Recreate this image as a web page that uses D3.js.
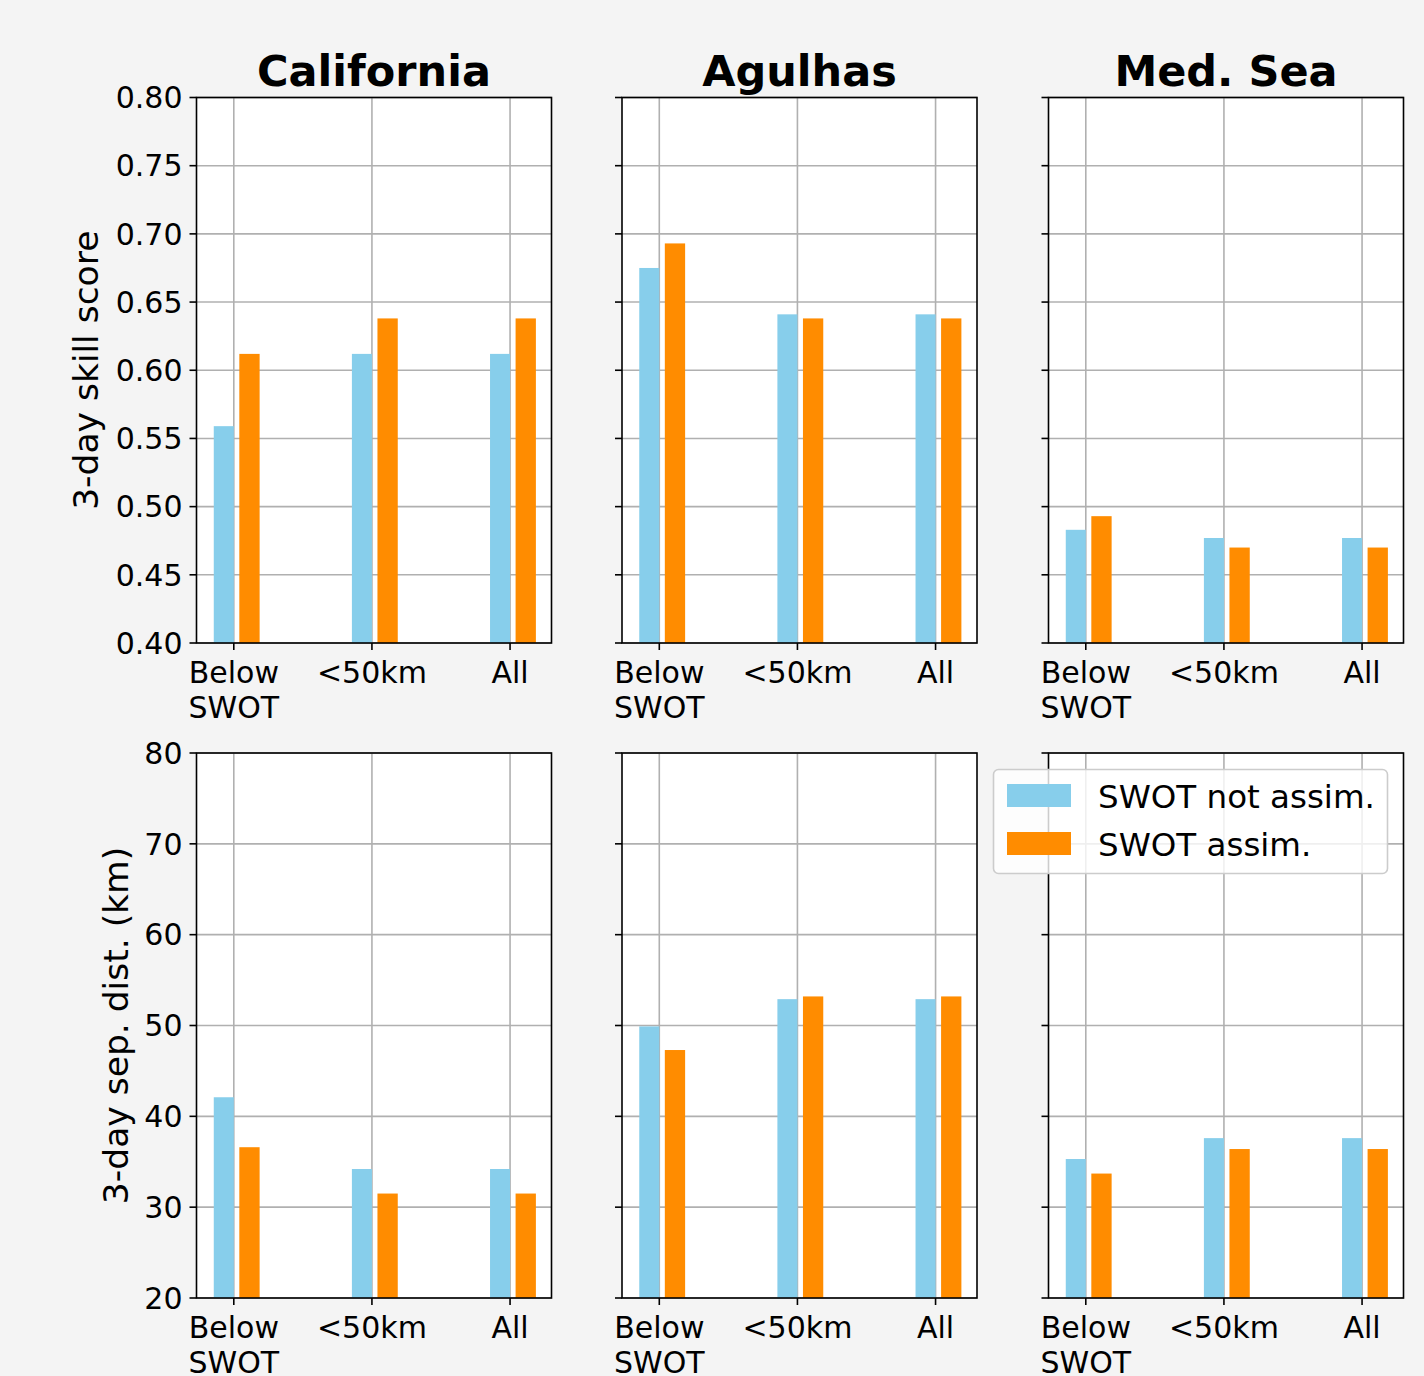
<!DOCTYPE html>
<html>
<head>
<meta charset="utf-8">
<script src="https://cdn.jsdelivr.net/npm/d3@7"></script>
<style>
  html, body { margin: 0; padding: 0; background: #f4f4f4; }
  svg { display: block; }
  text { font-family: "DejaVu Sans", sans-serif; fill: #000; }
</style>
</head>
<body>
<svg id="chart" width="1424" height="1376"></svg>
<script>
// ---- data ----
const regions = ["California", "Agulhas", "Med. Sea"];
const categories = ["Below\nSWOT", "<50km", "All"];
const seriesNames = ["SWOT not assim.", "SWOT assim."];
const seriesColors = ["#87CEEB", "#FF8C00"];

// 3-day skill score [region][category]
const skillNotAssim = [
  [0.559, 0.612, 0.612],
  [0.675, 0.641, 0.641],
  [0.483, 0.477, 0.477]
];
const skillAssim = [
  [0.612, 0.638, 0.638],
  [0.693, 0.638, 0.638],
  [0.493, 0.470, 0.470]
];
// 3-day separation distance (km)
const distNotAssim = [
  [42.1, 34.2, 34.2],
  [49.9, 52.9, 52.9],
  [35.3, 37.6, 37.6]
];
const distAssim = [
  [36.6, 31.5, 31.5],
  [47.3, 53.2, 53.2],
  [33.7, 36.4, 36.4]
];

const skillTicks = [0.40, 0.45, 0.50, 0.55, 0.60, 0.65, 0.70, 0.75, 0.80];
const distTicks = [20, 30, 40, 50, 60, 70, 80];

// ---- layout ----
const svg = d3.select("#chart");
const colX = [196.5, 622, 1048.5];
const panelW = 355;
const rows = [
  { y0: 97.5, y1: 643, domain: [0.40, 0.80], ticks: skillTicks, fmt: d3.format(".2f"),
    label: "3-day skill score", labelX: 98, a: skillNotAssim, b: skillAssim },
  { y0: 753, y1: 1298, domain: [20, 80], ticks: distTicks, fmt: d3.format("d"),
    label: "3-day sep. dist. (km)", labelX: 128, a: distNotAssim, b: distAssim }
];
// bar offsets in category units
const barSpans = [[-0.145, 0.0], [0.04, 0.187]];

const fontTick = 30;
const fontLabel = 34.5;
const fontLegend = 32.5;

rows.forEach((row, ri) => {
  const y = d3.scaleLinear().domain(row.domain).range([row.y1, row.y0]);
  regions.forEach((reg, ci) => {
    const x0 = colX[ci];
    const x = d3.scaleLinear().domain([-0.27, 2.30]).range([x0, x0 + panelW]);
    const g = svg.append("g");

    g.append("rect").attr("x", x0).attr("y", row.y0)
      .attr("width", panelW).attr("height", row.y1 - row.y0).attr("fill", "#fff");

    g.selectAll(".hg").data(row.ticks).enter().append("line")
      .attr("x1", x0).attr("x2", x0 + panelW)
      .attr("y1", d => y(d)).attr("y2", d => y(d))
      .attr("stroke", "#b0b0b0").attr("stroke-width", 1.6);
    g.selectAll(".vg").data(categories).enter().append("line")
      .attr("x1", (d, i) => x(i)).attr("x2", (d, i) => x(i))
      .attr("y1", row.y0).attr("y2", row.y1)
      .attr("stroke", "#b0b0b0").attr("stroke-width", 1.6);

    [row.a[ci], row.b[ci]].forEach((vals, si) => {
      g.selectAll(".b" + si).data(vals).enter().append("rect")
        .attr("x", (d, i) => x(i + barSpans[si][0]))
        .attr("width", (d, i) => x(i + barSpans[si][1]) - x(i + barSpans[si][0]))
        .attr("y", d => y(d))
        .attr("height", d => y(row.domain[0]) - y(d))
        .attr("fill", seriesColors[si]);
    });

    g.append("rect").attr("x", x0).attr("y", row.y0)
      .attr("width", panelW).attr("height", row.y1 - row.y0)
      .attr("fill", "none").attr("stroke", "#000").attr("stroke-width", 1.6);

    g.selectAll(".yt").data(row.ticks).enter().append("line")
      .attr("x1", x0 - 7).attr("x2", x0)
      .attr("y1", d => y(d)).attr("y2", d => y(d))
      .attr("stroke", "#000").attr("stroke-width", 1.6);
    if (ci === 0) {
      g.selectAll(".yl").data(row.ticks).enter().append("text")
        .attr("x", x0 - 14).attr("y", d => y(d))
        .attr("dy", "0.36em")
        .attr("text-anchor", "end")
        .attr("font-size", fontTick)
        .text(d => row.fmt(d));
      g.append("text")
        .attr("transform", `translate(${row.labelX},${(row.y0 + row.y1) / 2}) rotate(-90)`)
        .attr("text-anchor", "middle")
        .attr("font-size", fontLabel)
        .text(row.label);
    }

    g.selectAll(".xt").data(categories).enter().append("line")
      .attr("x1", (d, i) => x(i)).attr("x2", (d, i) => x(i))
      .attr("y1", row.y1).attr("y2", row.y1 + 7)
      .attr("stroke", "#000").attr("stroke-width", 1.6);
    categories.forEach((c, i) => {
      const t = g.append("text")
        .attr("x", x(i)).attr("y", row.y1 + 40)
        .attr("text-anchor", "middle")
        .attr("font-size", fontTick);
      c.split("\n").forEach((line, li) => {
        t.append("tspan").attr("x", x(i)).attr("dy", li === 0 ? 0 : 35).text(line);
      });
    });

    if (ri === 0) {
      svg.append("text")
        .attr("x", x0 + panelW / 2).attr("y", 86)
        .attr("text-anchor", "middle")
        .attr("font-size", 43).attr("font-weight", "bold")
        .text(reg);
    }
  });
});

// legend in bottom-right panel
const lg = svg.append("g");
lg.append("rect").attr("x", 993.5).attr("y", 769.5).attr("width", 394).attr("height", 104)
  .attr("rx", 5).attr("fill", "#fff").attr("fill-opacity", 0.8)
  .attr("stroke", "#cccccc").attr("stroke-width", 1.6);
seriesNames.forEach((s, i) => {
  lg.append("rect").attr("x", 1007).attr("y", 784 + i * 48).attr("width", 64).attr("height", 23)
    .attr("fill", seriesColors[i]);
  lg.append("text").attr("x", 1098).attr("y", 808 + i * 48)
    .attr("font-size", fontLegend).text(s);
});
</script>
</body>
</html>
